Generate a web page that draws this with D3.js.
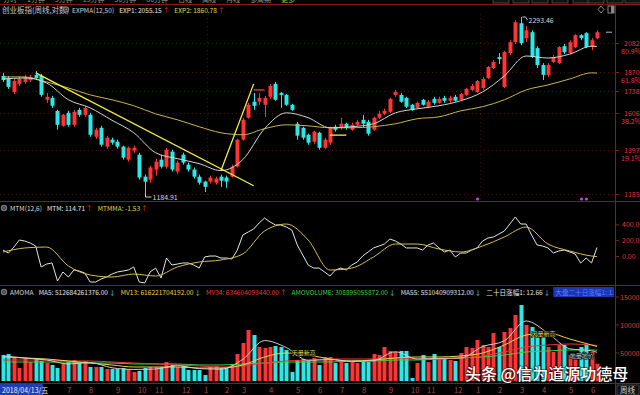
<!DOCTYPE html>
<html>
<head>
<meta charset="utf-8">
<script src="https://d3js.org/d3.v7.min.js"></script>
<style>
  body { margin:0; background:#000; overflow:hidden; }
  svg { display:block; font-family:"Noto Sans CJK SC","Noto Sans",sans-serif; }
</style>
</head>
<body>
<script>
// 创业板指 weekly candles, 2018/04/13 -> 2020/06
const opens = [1841,1827,1734,1787,1800,1813,1848,1841,1684,1696,
  1616,1528,1604,1534,1622,1592,1592,1467,1517,1414,
  1451,1440,1414,1347,1393,1372,1264,1250,1298,1347,
  1312,1388,1288,1372,1322,1298,1264,1241,1241,1236,
  1264,1260,1264,1312,1451,1575,1672,1672,1653,1703,
  1787,1728,1715,1653,1540,1517,1478,1440,1489,1408,
  1435,1523,1517,1540,1506,1534,1563,1551,1506,1575,
  1598,1610,1715,1715,1696,1653,1634,1684,1641,1690,
  1665,1696,1678,1703,1684,1715,1747,1734,1760,1827,
  1896,1975,1767,2005,2088,2241,2119,2167,2042,1917,
  1848,1939,1931,2057,2005,2050,2143,2159,2050,2119];
const closes = [1813,1767,1806,1820,1834,1827,1827,1715,1703,1647,
  1534,1592,1534,1610,1592,1634,1478,1506,1424,1462,
  1435,1414,1357,1408,1408,1260,1241,1308,1337,1312,
  1398,1298,1332,1332,1298,1264,1236,1217,1260,1255,
  1245,1241,1312,1451,1563,1653,1647,1696,1696,1773,
  1684,1715,1653,1622,1473,1462,1435,1495,1408,1451,
  1517,1506,1540,1517,1534,1551,1540,1484,1575,1598,
  1616,1690,1734,1672,1641,1622,1665,1653,1672,1665,
  1690,1678,1696,1678,1721,1754,1773,1806,1820,1903,
  1939,1960,2012,2088,2249,2080,2183,1975,1917,1848,
  1917,1975,2050,2012,2088,2143,2119,2050,2103,2167];
const highs = [1862,1841,1820,1834,1848,1848,1875,1855,1728,1709,
  1622,1598,1616,1622,1634,1647,1604,1517,1528,1473,
  1462,1451,1419,1414,1419,1382,1274,1317,1352,1372,
  1408,1398,1342,1382,1332,1308,1274,1245,1269,1264,
  1274,1269,1322,1456,1575,1665,1728,1728,1709,1787,
  1800,1734,1721,1659,1551,1523,1484,1500,1495,1462,
  1523,1534,1575,1546,1546,1563,1592,1563,1580,1616,
  1628,1696,1747,1728,1703,1659,1672,1690,1684,1703,
  1703,1709,1709,1715,1728,1760,1787,1813,1834,1910,
  1953,2005,2020,2103,2266,2293.46,2216,2183,2057,1931,
  1931,1990,2057,2073,2103,2151,2151,2167,2119,2183];
const lows = [1800,1754,1721,1773,1787,1800,1813,1703,1665,1634,
  1506,1523,1523,1523,1580,1580,1467,1456,1414,1403,
  1424,1403,1347,1337,1382,1250,1184.91,1236,1269,1303,
  1303,1288,1279,1322,1288,1255,1227,1194,1232,1227,
  1217,1213,1260,1308,1446,1569,1622,1653,1580,1690,
  1678,1634,1647,1616,1451,1451,1424,1429,1398,1403,
  1424,1495,1506,1506,1500,1528,1517,1473,1500,1569,
  1592,1604,1703,1665,1634,1616,1628,1647,1634,1653,
  1659,1665,1665,1672,1678,1709,1741,1728,1747,1820,
  1889,1924,1760,1990,2073,2065,2088,1968,1896,1813,
  1834,1931,1924,1997,1997,2042,2103,2042,2027,2111];
// weekly turnover, 亿元
const amounts = [4640,4820,4290,2320,4110,3390,4110,3570,3210,2860,
  2320,3040,3390,3750,3210,3570,2500,2500,2500,2140,
  2140,2140,2320,2140,1610,1790,2320,2500,2500,2500,
  3390,2860,2500,2680,1960,1960,1960,1070,2500,2680,
  2320,2320,3040,4820,6790,9110,8210,6070,5890,6070,
  6250,6070,5540,1610,3750,3930,3570,4110,2860,4290,
  4290,3210,3390,3210,3390,3210,3390,3390,4820,4640,
  6070,5360,5180,5360,5360,540,3210,4640,3390,4820,
  4110,4110,3750,3570,5000,6070,5890,7320,6430,6070,
  8570,6070,8750,9460,11790,13570,10000,9640,8750,8210,
  6070,5180,6430,6430,4640,4640,6070,6430,5180,3089];
const mtm = [82,44,120,209,196,171,133,-133,-95,-82,
  -310,-196,-260,-171,-184,-209,-323,-323,-285,-260,
  -222,-196,-184,-171,-133,-323,-335,-196,-146,-272,
  -19,-108,-95,-82,-82,-108,-146,-6,6,6,
  -19,-19,-32,82,272,310,348,424,487,437,
  399,399,373,335,146,19,-108,-146,-146,-196,
  -247,-171,-146,-171,-108,-70,6,57,108,133,
  158,222,196,158,108,108,108,82,146,171,
  108,57,82,-6,44,44,82,108,196,234,
  247,285,323,411,500,411,411,272,146,133,
  108,44,70,82,57,32,-82,-19,-82,114.71];

// indicator lines read at these weeks
const sampleWeeks = [0,4,8,12,16,20,24,28,32,36,40,44,48,52,56,60,64,68,72,76,80,84,88,92,96,100,104,108,109];
const exp1 = [1820,1827,1793,1684,1634,1560,1489,1382,1352,1327,1293,1347,1512,1604,1575,1517,1523,1540,1604,1628,1647,1678,1734,1841,1983,1968,1997,2057,2055.15];
const exp2 = [1834,1834,1800,1760,1715,1684,1647,1598,1563,1523,1489,1478,1512,1534,1528,1517,1517,1523,1540,1569,1580,1616,1641,1684,1747,1780,1820,1862,1860.78];
const mtmma = [57,108,120,-120,-234,-260,-222,-247,-133,-70,-44,32,323,411,209,-171,-146,-6,158,158,95,57,133,247,373,158,70,6,-1.53];
const ma5 = [4470,4110,3750,3040,3290,2360,2070,2140,2750,2210,2110,3860,7220,5970,3680,3820,3500,3640,5220,3930,4040,4110,6140,7180,10720,8540,5750,5390,5126.84];
const mv13 = [4290,4110,3930,3570,3210,2860,2500,2500,2500,2320,2320,2860,4290,5000,4640,3930,3570,3750,4110,4290,4290,4470,5000,6430,8210,8570,7500,6430,6162.22];
const mv34 = [3750,3750,3750,3570,3570,3390,3210,3040,2860,2680,2500,2680,3210,3570,3750,3930,3930,3930,4110,3930,3930,4110,4470,5180,6070,6430,6610,6430,6346.04];
const ma55 = [3390,3390,3390,3390,3210,3210,3040,3040,3040,2860,2860,3040,3210,3390,3390,3390,3570,3570,3750,3750,3930,4110,4290,4640,5180,5360,5540,5540,5510.41];

// axis
const monthWeeks = [12,16,21,25,28,33,37,41,44,49,54,58,62,66,71,75,78,83,87,91,95,99,104,108];
const monthLabels = ["7","8","9","10","11","12","1","2","3","4","5","6","7","8","9","10","11","12","1","2","3","4","5","6"];
const yearWeeks = [37, 87];
const priceTicks = [2082, 1870, 1738, 1606, 1397, 1185];
const fibLabels = ["80.9%", "61.8%", "", "38.2%", "19.1%", ""];
const mtmTicks = [400, 200, 0];
const amountTicks = [15000, 10000, 5000];
const signalWeeks = [87, 106, 107];

// hand drawn lines on the chart: [week, price]
const trendLines = [
  {from: [6, 1862], to: [46, 1222], color: "#f5f03a"},
  {from: [40, 1293], to: [46, 1787], color: "#f5f03a"},
  {from: [60, 1476], to: [63, 1476], color: "#f5f03a"},
  {from: [46, 1747], to: [48, 1747], color: "#e04848"}
];
// small notes inside the amount panel: [week, amount]
const volNotes = [
  {at: [53, 5000], text: "天量新高", color: "#e8d44a"},
  {at: [97, 8400], text: "天量新高", color: "#e8d44a"},
  {at: [104, 4460], text: "地量地价", color: "#d0d0d0"}
];

const W = 640, H = 395;
const RED = "#ff3434", CYAN = "#2ee8e8", AXIS = "#8a1a1a", LBL = "#e03a3a";
const FS = 6.6;
const N = closes.length;

const svg = d3.select("body").append("svg").attr("width", W).attr("height", H);
svg.append("rect").attr("width", W).attr("height", H).attr("fill", "#000");

const defs = svg.append("defs");
[["clipMain", 13, 201], ["clipMtm", 213, 285], ["clipVol", 298, 383], ["clipBox", 286, 298]].forEach(([id, y0, y1]) => {
  defs.append("clipPath").attr("id", id).append("rect")
    .attr("x", 0).attr("y", y0).attr("width", 614).attr("height", y1 - y0);
});

const x = d3.scaleLinear().domain([0, N - 1]).range([3, 597]);
const yP = d3.scaleLog().domain([1184.91, 2293.46]).range([194, 17]);
const yM = d3.scaleLinear().domain([-400, 400]).range([288.1, 224.9]);
const yV = d3.scaleLinear().domain([0, 15000]).range([381, 297]);
const up = i => closes[i] >= opens[i];
const cx = i => Math.round(x(i));

// toolbar remnants at the very top (only their lower edge shows)
const tabs = ["分时","1分钟","5分钟","15分钟","30分钟","60分钟","日线","周线","月线","多周期","更多"];
let tx = 3;
tabs.forEach((t, k) => {
  const el = svg.append("text").attr("x", tx).attr("y", 2).attr("font-size", 7)
    .attr("fill", k === tabs.length - 1 ? "#8cc23a" : "#9a9a9a").text(t);
  tx += el.node().getComputedTextLength() + 10;
});
[493, 513, 532, 552, 573, 588, 607, 625].forEach(bx => {
  svg.append("rect").attr("x", bx).attr("y", -6).attr("width", 16).attr("height", 9)
    .attr("fill", "#111").attr("stroke", "#555").attr("stroke-width", 0.8);
});

// frame lines
svg.append("line").attr("x1", 0).attr("x2", W).attr("y1", 4.5).attr("y2", 4.5).attr("stroke", AXIS);
[201.5, 285.5, 383.5].forEach(yy => svg.append("line").attr("x1", 0).attr("x2", W)
  .attr("y1", yy).attr("y2", yy).attr("stroke", AXIS));
svg.append("line").attr("x1", 615.5).attr("x2", 615.5).attr("y1", 4).attr("y2", 395).attr("stroke", AXIS);

// price grid and axis labels
const gGrid = svg.append("g");
priceTicks.forEach((p, k) => {
  const yy = Math.round(yP(p)) + 0.5;
  gGrid.append("line").attr("x1", 0).attr("x2", 614).attr("y1", yy).attr("y2", yy)
    .attr("stroke", "#4a0e0e").attr("stroke-dasharray", "1,3");
  gGrid.append("line").attr("x1", 615).attr("x2", 619).attr("y1", yy).attr("y2", yy).attr("stroke", AXIS);
  svg.append("text").attr("x", 624).attr("y", yy + 2).attr("font-size", 7).attr("fill", LBL).text(p);
  if (fibLabels[k]) svg.append("text").attr("x", 621).attr("y", yy + 10.5).attr("font-size", 7)
    .attr("fill", LBL).text(fibLabels[k]);
});
yearWeeks.forEach(w => {
  const xx = Math.round(x(w + 0.5)) + 0.5;
  gGrid.append("line").attr("x1", xx).attr("x2", xx).attr("y1", 14).attr("y2", 200)
    .attr("stroke", "#3a0c0c").attr("stroke-dasharray", "1,3");
});
mtmTicks.forEach(v => {
  svg.append("line").attr("x1", 615).attr("x2", 619).attr("y1", yM(v)).attr("y2", yM(v)).attr("stroke", AXIS);
  svg.append("text").attr("x", 622).attr("y", yM(v) + 2.5).attr("font-size", 7).attr("fill", LBL).text(v.toFixed(2));
});
amountTicks.forEach(v => {
  svg.append("line").attr("x1", 615).attr("x2", 619).attr("y1", yV(v)).attr("y2", yV(v)).attr("stroke", AXIS);
  svg.append("text").attr("x", 620).attr("y", yV(v) + 2.5).attr("font-size", 7).attr("fill", LBL)
    .text(String(v * 10000));
});

// candles
const gMain = svg.append("g").attr("clip-path", "url(#clipMain)");
const idx = d3.range(N);
gMain.selectAll("line.wick").data(idx).join("line").attr("class", "wick")
  .attr("x1", i => cx(i) + 0.5).attr("x2", i => cx(i) + 0.5)
  .attr("y1", i => yP(highs[i])).attr("y2", i => yP(lows[i]))
  .attr("stroke", i => up(i) ? RED : CYAN);
gMain.selectAll("rect.body").data(idx).join("rect").attr("class", "body")
  .attr("x", i => cx(i) - 1.5).attr("width", 4)
  .attr("y", i => yP(Math.max(opens[i], closes[i])))
  .attr("height", i => Math.max(1, Math.abs(yP(opens[i]) - yP(closes[i]))))
  .attr("fill", i => up(i) ? RED : CYAN);

// EXPMA
const sampleLine = (ys, series) => d3.line()
  .x((d, k) => x(sampleWeeks[k])).y(d => ys(d)).curve(d3.curveMonotoneX)(series);
gMain.append("path").attr("d", sampleLine(yP, exp2)).attr("fill", "none").attr("stroke", "#c9b648").attr("stroke-width", 1);
gMain.append("path").attr("d", sampleLine(yP, exp1)).attr("fill", "none").attr("stroke", "#d4d4d4").attr("stroke-width", 1);

// drawn lines
trendLines.forEach(l => {
  gMain.append("line").attr("x1", x(l.from[0])).attr("y1", yP(l.from[1]))
    .attr("x2", x(l.to[0])).attr("y2", yP(l.to[1]))
    .attr("stroke", l.color).attr("stroke-width", 1.3);
});

// high / low markers
const iHi = d3.maxIndex(highs), iLo = d3.minIndex(lows);
const hx = cx(iHi) + 0.5, hy = yP(highs[iHi]);
gMain.append("path").attr("d", `M${hx + 1},${hy}L${hx + 4},${hy}L${hx + 6},${hy + 3}`).attr("fill", "none").attr("stroke", "#ccc");
gMain.append("text").attr("x", hx + 7).attr("y", hy + 6).attr("font-size", 7).attr("fill", "#d8d8d8").text(highs[iHi].toFixed(2));
const lx = cx(iLo) + 0.5, ly = yP(lows[iLo]);
gMain.append("path").attr("d", `M${lx},${ly}L${lx},${ly + 3}L${lx + 6},${ly + 3}`).attr("fill", "none").attr("stroke", "#ccc");
gMain.append("text").attr("x", lx + 7).attr("y", ly + 5.5).attr("font-size", 7).attr("fill", "#d8d8d8").text(lows[iLo].toFixed(2));

// last close marker and signal dots
svg.append("line").attr("x1", 606).attr("x2", 612).attr("y1", yP(closes[N - 1])).attr("y2", yP(closes[N - 1])).attr("stroke", "#bbb");
gMain.selectAll("circle.sig").data(signalWeeks).join("circle").attr("class", "sig")
  .attr("cx", w => cx(w) + 0.5).attr("cy", 199).attr("r", 1.6).attr("fill", "#b04cd8");

// icons right of title
svg.append("path").attr("d", "M601,6L604,9.5L601,13L598,9.5Z").attr("fill", "none").attr("stroke", "#888");
svg.append("rect").attr("x", 608).attr("y", 6).attr("width", 6).attr("height", 7).attr("fill", "none").attr("stroke", "#888");
svg.append("rect").attr("x", 611).attr("y", 6).attr("width", 3).attr("height", 7).attr("fill", "#888");

// legends
function icon(ix, iy) {
  svg.append("circle").attr("cx", ix).attr("cy", iy).attr("r", 3.2).attr("fill", "#7a7a7a");
  svg.append("circle").attr("cx", ix).attr("cy", iy).attr("r", 1.5).attr("fill", "none").attr("stroke", "#222").attr("stroke-width", 0.8);
}
function legend(lx0, ly0, parts, parent) {
  let px = lx0;
  parts.forEach(p => {
    const el = (parent || svg).append("text").attr("x", px).attr("y", ly0).attr("font-size", p.s || FS).attr("fill", p.c).text(p.t);
    px += el.node().getComputedTextLength() + (p.g === undefined ? 4 : p.g);
  });
  return px;
}
legend(2, 12.5, [{t: "创业板指(周线,对数)", c: "#c8c8c8", s: 7.5}]);
icon(66, 9.5);
legend(72, 12.5, [
  {t: "EXPMA(12,50)", c: "#d0d0d0", g: 5},
  {t: "EXP1: 2055.15", c: "#e6e6e6", g: 1},
  {t: "↑", c: RED, g: 5},
  {t: "EXP2: 1860.78", c: "#e8d44a", g: 1},
  {t: "↑", c: RED}
]);

icon(4, 208);
legend(10, 210.5, [
  {t: "MTM(12,6)", c: "#d8d8d8", g: 5},
  {t: "MTM: 114.71", c: "#e6e6e6", g: 1},
  {t: "↑", c: RED, g: 5},
  {t: "MTMMA: -1.53", c: "#e8d44a", g: 1},
  {t: "↑", c: RED}
]);

// MTM
const gMtm = svg.append("g").attr("clip-path", "url(#clipMtm)");
gMtm.append("path").attr("d", d3.line().x((d, i) => x(i)).y(d => yM(d))(mtm))
  .attr("fill", "none").attr("stroke", "#e4e4e4").attr("stroke-width", 1);
gMtm.append("path").attr("d", sampleLine(yM, mtmma))
  .attr("fill", "none").attr("stroke", "#d4bf55").attr("stroke-width", 1);

// amount panel
icon(4, 292);
const endX = legend(10, 294.5, [
  {t: "AMOMA", c: "#d8d8d8", g: 5},
  {t: "MA5: 512684261376.00", c: "#e6e6e6", g: 1},
  {t: "↓", c: CYAN, g: 5},
  {t: "MV13: 616221704192.00", c: "#e8d44a", g: 1},
  {t: "↓", c: CYAN, g: 5},
  {t: "MV34: 634604093440.00", c: "#e83a3a", g: 1},
  {t: "↑", c: RED, g: 5},
  {t: "AMOVOLUME: 308895055872.00", c: "#3ad43a", g: 1},
  {t: "↓", c: CYAN, g: 5},
  {t: "MA55: 551040909312.00", c: "#e0e0e0", g: 1},
  {t: "↓", c: CYAN, g: 5},
  {t: "二十日涨幅1: 12.66", c: "#e0e0e0", g: 1},
  {t: "↓", c: CYAN, g: 3}
]);
const gBox = svg.append("g").attr("clip-path", "url(#clipBox)");
gBox.append("rect").attr("x", endX).attr("y", 287).attr("width", 614 - endX).attr("height", 10).attr("fill", "#1b36b4");
legend(endX + 2, 294.5, [{t: "大盘二十日涨幅1: 1.57", c: "#5a7cff"}], gBox);

const gVol = svg.append("g").attr("clip-path", "url(#clipVol)");
gVol.selectAll("rect.amt").data(idx).join("rect").attr("class", "amt")
  .attr("x", i => cx(i) - 1.5).attr("width", 4)
  .attr("y", i => yV(amounts[i])).attr("height", i => yV(0) - yV(amounts[i]))
  .attr("fill", i => up(i) ? RED : CYAN);
[[ma55, "#3ad43a"], [mv34, "#e83a3a"], [mv13, "#e8d44a"], [ma5, "#cfcfcf"]].forEach(([s, c]) => {
  gVol.append("path").attr("d", sampleLine(yV, s)).attr("fill", "none").attr("stroke", c).attr("stroke-width", 1);
});
volNotes.forEach(n => {
  gVol.append("text").attr("x", x(n.at[0])).attr("y", yV(n.at[1]) + 2).attr("font-size", 6)
    .attr("fill", n.color).attr("stroke", "#000").attr("stroke-width", 1.2).attr("paint-order", "stroke")
    .text(n.text);
});

// x axis
svg.append("rect").attr("x", 0).attr("y", 384).attr("width", 43).attr("height", 11).attr("fill", "#1f3db6");
svg.append("text").attr("x", 2).attr("y", 392.5).attr("font-size", 7).attr("fill", "#f0f0f0").text("2018/04/13/五");
monthWeeks.forEach((w, k) => {
  svg.append("text").attr("x", cx(w) - 1).attr("y", 392.5).attr("font-size", 7.5)
    .attr("fill", "#b04040").text(monthLabels[k]);
});
svg.append("rect").attr("x", 617).attr("y", 385).attr("width", 22).attr("height", 10).attr("fill", "#111").attr("stroke", "#444");
svg.append("text").attr("x", 620).attr("y", 393).attr("font-size", 7.5).attr("fill", "#cfcfcf").text("周线");

// watermark
svg.append("text").attr("x", 465).attr("y", 380).attr("font-size", 16).attr("font-weight", 500)
  .attr("fill", "#ffffff").attr("stroke", "#000").attr("stroke-width", 2).attr("stroke-opacity", 0.45)
  .attr("paint-order", "stroke").text("头条 @信为道源功德母");
</script>
</body>
</html>
